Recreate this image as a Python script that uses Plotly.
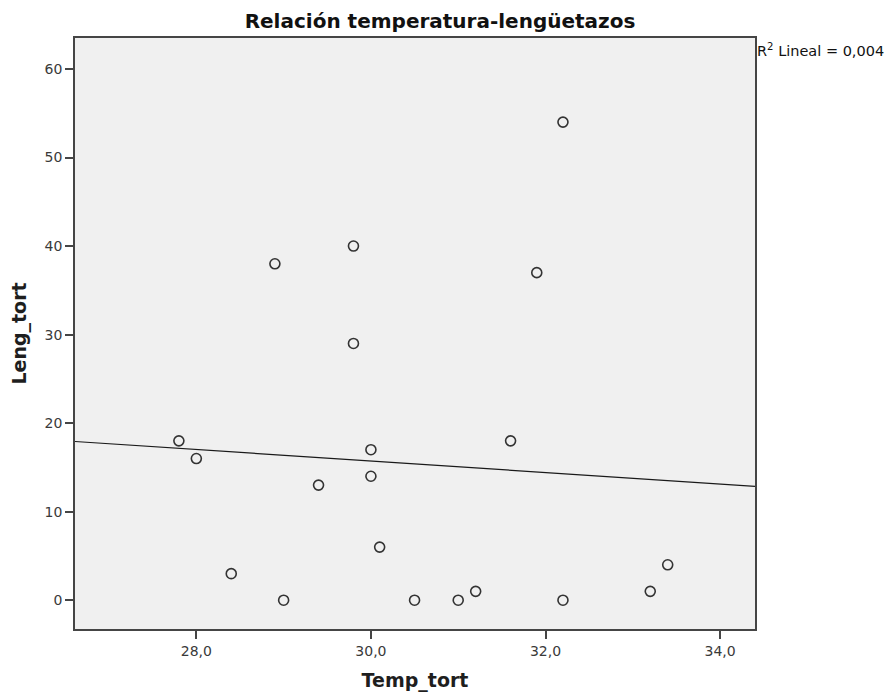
import numpy as np
import plotly.graph_objects as go

temp_tort = [27.8, 28.0, 28.4, 28.9, 29.0, 29.4, 29.8, 29.8, 30.0, 30.0,
             30.1, 30.5, 31.0, 31.2, 31.6, 31.9, 32.2, 32.2, 33.2, 33.4]
leng_tort = [18, 16, 3, 38, 0, 13, 40, 29, 17, 14,
             6, 0, 0, 1, 18, 37, 54, 0, 1, 4]

x_ticks = [28, 30, 32, 34]
x_tick_labels = ["28,0", "30,0", "32,0", "34,0"]
y_ticks = [0, 10, 20, 30, 40, 50, 60]
y_tick_labels = ["0", "10", "20", "30", "40", "50", "60"]

x_range = [26.61, 34.40]
y_range = [-3.25, 63.5]

x = np.array(temp_tort, dtype=float)
y = np.array(leng_tort, dtype=float)
slope, intercept = np.polyfit(x, y, 1)
r2 = np.corrcoef(x, y)[0, 1] ** 2
line_x = np.array(x_range)
line_y = intercept + slope * line_x

FONT = "DejaVu Sans, sans-serif"

fig = go.Figure()
fig.add_trace(go.Scatter(
    x=line_x, y=line_y, mode="lines",
    line=dict(color="#1a1a1a", width=1.2),
    hoverinfo="skip", showlegend=False,
))
fig.add_trace(go.Scatter(
    x=temp_tort, y=leng_tort, mode="markers",
    marker=dict(symbol="circle-open", size=10, color="#333333",
                line=dict(width=1.6, color="#333333")),
    showlegend=False,
))

axis_common = dict(
    showline=True, mirror=True, linecolor="#454545", linewidth=1.7,
    showgrid=False, zeroline=False, ticks="outside", ticklen=8,
    tickcolor="#454545", tickwidth=1.5, automargin=False,
    tickfont=dict(family=FONT, size=14, color="#3a3a3a"),
)

fig.update_xaxes(
    range=x_range, tickvals=x_ticks, ticktext=x_tick_labels,
    title=dict(text="<b>Temp_tort</b>", standoff=16,
               font=dict(family=FONT, size=19, color="#1e1e1e")),
    **axis_common,
)
fig.update_yaxes(
    range=y_range, tickvals=y_ticks, ticktext=y_tick_labels,
    title=dict(text="<b>Leng_tort</b>", standoff=14,
               font=dict(family=FONT, size=19, color="#1e1e1e")),
    **axis_common,
)

fig.update_layout(
    width=886, height=687,
    margin=dict(l=67, r=139, t=30, b=66, autoexpand=False),
    paper_bgcolor="white",
    plot_bgcolor="#F0F0F0",
    title=dict(text="<b>Relación temperatura-lengüetazos</b>",
               xref="container", yref="container",
               x=0.4876, xanchor="center", y=0.981, yanchor="middle",
               font=dict(family=FONT, size=20, color="#111111")),
    annotations=[dict(
        text="R<sup>2</sup> Lineal = " + f"{r2:.3f}".replace(".", ","),
        xref="paper", yref="paper", x=1.0, y=1.0, xanchor="left", yanchor="middle",
        yshift=-12, xshift=0, showarrow=False,
        font=dict(family=FONT, size=14.5, color="#111111"),
    )],
)

fig.write_html("out.html")
